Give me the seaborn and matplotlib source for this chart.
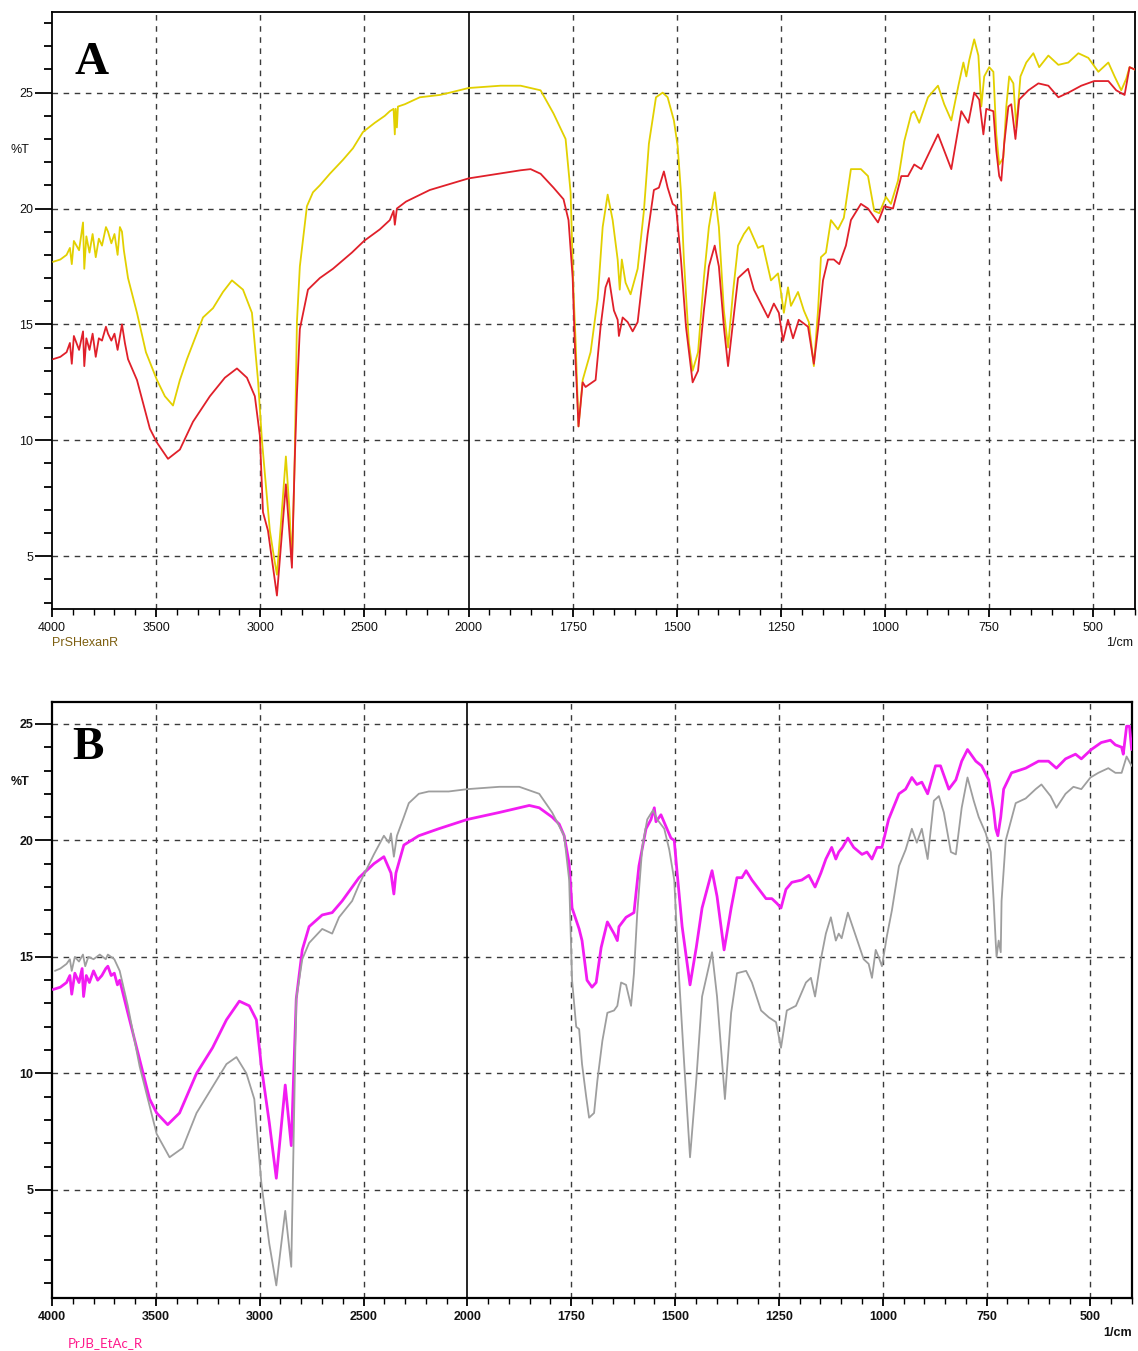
import numpy as np
import pandas as pd
import matplotlib
matplotlib.use("Agg")
import matplotlib.pyplot as plt
import seaborn as sns
from matplotlib.ticker import FixedLocator

# ---------------- data (wavenumber in 1/cm, transmittance in %T) ----------------
a_yellow_wn = [3995, 3960, 3930, 3914, 3905, 3895, 3870, 3851, 3845, 3835, 3820, 3805, 3790, 3775,
               3760, 3741, 3731, 3715, 3700, 3685, 3674, 3664, 3655, 3635, 3592, 3549, 3496, 3458,
               3419, 3386, 3352, 3275, 3227, 3179, 3136, 3083, 3040, 3011, 2992, 2954, 2935, 2920,
               2900, 2877, 2860, 2848, 2835, 2824, 2810, 2776, 2747, 2714, 2666, 2603, 2555, 2507,
               2450, 2402, 2378, 2360, 2354, 2350, 2344, 2339, 2306, 2234, 2138, 2090, 2000, 1923,
               1875, 1827, 1796, 1767, 1755, 1748, 1743, 1736, 1726, 1707, 1690, 1678, 1666, 1654,
               1642, 1637, 1632, 1623, 1611, 1594, 1579, 1567, 1550, 1534, 1522, 1507, 1498, 1490,
               1483, 1471, 1462, 1449, 1435, 1423, 1409, 1399, 1387, 1377, 1365, 1353, 1339, 1327,
               1305, 1293, 1274, 1257, 1250, 1243, 1233, 1226, 1209, 1195, 1183, 1171, 1161, 1154,
               1142, 1130, 1113, 1099, 1082, 1058, 1041, 1026, 1014, 998, 986, 969, 954, 937, 930,
               918, 897, 873, 858, 841, 824, 812, 805, 798, 786, 776, 769, 762, 750, 740, 733, 726,
               716, 709, 702, 692, 685, 675, 661, 644, 630, 608, 584, 560, 536, 512, 488, 464, 449,
               433, 421, 413, 401]
a_yellow_t = [17.7, 17.8, 18.0, 18.3, 17.6, 18.6, 18.2, 19.4, 17.4, 18.8, 18.1, 18.9, 17.9, 18.7,
              18.4, 19.2, 19.0, 18.5, 18.9, 18.0, 19.2, 19.0, 18.2, 17.0, 15.5, 13.8, 12.6, 11.9,
              11.5, 12.6, 13.5, 15.3, 15.7, 16.4, 16.9, 16.5, 15.5, 12.6, 10.0, 6.1, 5.0, 4.2,
              6.5, 9.3, 7.0, 4.7, 9.0, 15.1, 17.5, 20.1, 20.7, 21.0, 21.5, 22.1, 22.6, 23.3,
              23.7, 24.0, 24.2, 24.3, 23.2, 24.3, 23.5, 24.4, 24.5, 24.8, 24.9, 25.0, 25.2, 25.3,
              25.3, 25.1, 24.1, 23.0, 20.7, 16.4, 14.3, 10.6, 12.6, 13.8, 16.1, 19.2, 20.6, 19.5,
              17.8, 16.5, 17.8, 16.8, 16.3, 17.4, 19.9, 22.8, 24.8, 25.0, 24.8, 23.8, 22.7, 20.7,
              17.8, 14.2, 13.0, 13.8, 17.0, 19.2, 20.7, 19.2, 15.6, 14.0, 16.4, 18.4, 18.9, 19.2,
              18.3, 18.4, 16.9, 17.2, 16.4, 15.5, 16.6, 15.8, 16.4, 15.6, 15.1, 13.2, 15.6, 17.9,
              18.1, 19.5, 19.1, 19.6, 21.7, 21.7, 21.4, 19.9, 19.8, 20.5, 20.2, 21.2, 22.9, 24.1, 24.2,
              23.7, 24.8, 25.3, 24.5, 23.8, 25.3, 26.3, 25.7, 26.4, 27.3, 26.6, 24.4, 25.7, 26.1, 25.9, 23.2, 21.9,
              22.2, 24.4, 25.7, 25.4, 23.5, 25.7, 26.3, 26.7, 26.1, 26.6, 26.2, 26.3, 26.7, 26.5, 25.9, 26.3, 25.7,
              25.1, 25.6, 26.1, 26.0]

a_red_wn = [3995, 3960, 3930, 3914, 3905, 3895, 3870, 3851, 3845, 3835, 3820, 3805, 3790, 3775,
            3760, 3741, 3731, 3715, 3700, 3685, 3664, 3650, 3635, 3592, 3530, 3496, 3443, 3386,
            3323, 3242, 3170, 3112, 3064, 3026, 3002, 2987, 2963, 2920, 2877, 2848, 2835, 2824,
            2810, 2771, 2714, 2651, 2560, 2502, 2426, 2378, 2360, 2354, 2344, 2300, 2186, 2000,
            1875, 1851, 1827, 1796, 1772, 1760, 1750, 1745, 1736, 1726, 1719, 1695, 1683, 1671,
            1663, 1651, 1642, 1639, 1630, 1618, 1606, 1594, 1582, 1570, 1555, 1543, 1531, 1522,
            1510, 1502, 1490, 1478, 1462, 1449, 1435, 1423, 1409, 1399, 1387, 1377, 1365, 1353,
            1329, 1315, 1298, 1281, 1267, 1255, 1245, 1233, 1221, 1207, 1185, 1171, 1161, 1149,
            1137, 1123, 1110, 1094, 1082, 1058, 1041, 1017, 1002, 981, 961, 945, 930, 913, 873,
            841, 817, 800, 786, 774, 764, 757, 740, 733, 726, 721, 714, 704, 697, 687, 678, 656,
            632, 608, 584, 560, 529, 498, 464, 445, 425, 413, 401]
a_red_t = [13.5, 13.6, 13.8, 14.2, 13.3, 14.5, 13.9, 14.7, 13.2, 14.4, 13.9, 14.6, 13.6, 14.4,
           14.3, 14.9, 14.6, 14.3, 14.6, 13.9, 15.0, 14.2, 13.5, 12.6, 10.5, 9.9, 9.2, 9.6,
           10.8, 11.9, 12.7, 13.1, 12.7, 11.9, 10.2, 6.9, 6.1, 3.3, 8.1, 4.5, 9.0, 12.0,
           14.8, 16.5, 17.0, 17.4, 18.1, 18.6, 19.1, 19.5, 19.9, 19.3, 20.0, 20.3, 20.8, 21.3,
           21.65, 21.7, 21.5, 20.9, 20.4, 19.5, 17.0, 14.2, 10.6, 12.5, 12.3, 12.6, 14.9, 16.6,
           17.0, 15.6, 15.2, 14.5, 15.3, 15.1, 14.7, 15.1, 17.0, 18.9, 20.8, 20.9, 21.6, 20.9,
           20.2, 20.1, 17.8, 14.9, 12.5, 13.0, 15.6, 17.5, 18.4, 17.5, 14.9, 13.2, 15.1, 17.0,
           17.4, 16.5, 15.9, 15.3, 15.9, 15.5, 14.3, 15.2, 14.4, 15.2, 14.9, 13.3, 14.8, 16.9,
           17.8, 17.8, 17.6, 18.4, 19.5, 20.2, 20.0, 19.4, 20.1, 20.0, 21.4, 21.4, 21.9, 21.7, 23.2,
           21.7, 24.2, 23.7, 25.0, 24.7, 23.2, 24.3, 24.2, 22.5, 21.4, 21.2, 22.8, 24.4, 24.5, 23.0, 24.7, 25.1,
           25.4, 25.3, 24.8, 25.0, 25.3, 25.5, 25.5, 25.1, 24.9, 26.1, 26.0]

b_gray_wn = [3986, 3960, 3930, 3914, 3905, 3890, 3870, 3851, 3840, 3825, 3800, 3770, 3741, 3731,
             3700, 3674, 3635, 3578, 3530, 3496, 3434, 3371, 3304, 3208, 3160, 3112, 3064, 3026,
             2992, 2954, 2920, 2877, 2848, 2824, 2795, 2762, 2699, 2651, 2618, 2555, 2522, 2450,
             2402, 2378, 2368, 2354, 2339, 2306, 2282, 2234, 2186, 2090, 2000, 1923, 1875, 1827,
             1796, 1767, 1755, 1748, 1738, 1731, 1724, 1714, 1707, 1695, 1687, 1675, 1663, 1647,
             1639, 1630, 1618, 1606, 1599, 1591, 1579, 1567, 1553, 1543, 1526, 1514, 1502, 1490,
             1478, 1464, 1449, 1435, 1411, 1399, 1380, 1365, 1351, 1329, 1315, 1293, 1274, 1257,
             1245, 1231, 1209, 1185, 1173, 1163, 1149, 1137, 1125, 1113, 1106, 1099, 1084, 1065,
             1046, 1034, 1026, 1017, 1010, 1002, 990, 978, 961, 945, 930, 918, 906, 892, 877, 865,
             853, 836, 824, 810, 796, 781, 769, 752, 740, 733, 728, 726, 721, 716, 714, 704, 680,
             656, 632, 618, 596, 582, 560, 541, 522, 500, 481, 457, 440, 425, 413, 401]
b_gray_t = [14.4, 14.5, 14.7, 14.9, 14.4, 15.0, 14.8, 15.1, 14.6, 15.0, 14.9, 15.1, 14.9, 15.1,
            14.9, 14.4, 12.9, 10.3, 8.6, 7.4, 6.4, 6.8, 8.3, 9.7, 10.4, 10.7, 10.0, 8.9,
            5.3, 2.7, 0.9, 4.1, 1.7, 13.2, 14.9, 15.6, 16.2, 16.0, 16.7, 17.4, 18.1, 19.4,
            20.2, 19.9, 20.3, 19.3, 20.2, 21.0, 21.6, 22.0, 22.1, 22.1, 22.2, 22.3, 22.3, 22.0,
            21.2, 20.2, 18.3, 14.0, 12.0, 11.9, 10.4, 9.0, 8.1, 8.3, 9.7, 11.4, 12.6, 12.7,
            12.9, 13.9, 13.8, 12.9, 14.3, 16.9, 19.7, 20.9, 21.3, 20.9, 20.5, 19.6, 18.3, 14.0,
            10.4, 6.4, 9.7, 13.3, 15.2, 13.3, 8.9, 12.6, 14.3, 14.4, 13.9, 12.7, 12.4, 12.2,
            11.1, 12.7, 12.9, 13.9, 14.1, 13.3, 14.9, 16.0, 16.7, 15.7, 16.0, 15.8, 16.9, 15.9,
            14.9, 14.7, 14.1, 15.3, 15.0, 14.6, 15.9, 17.0, 18.9, 19.6, 20.5, 19.9, 20.5, 19.2, 21.7, 21.9,
            21.2, 19.5, 19.4, 21.4, 22.7, 21.7, 21.0, 20.3, 19.5, 17.4, 15.6, 15.0, 15.7, 15.2, 17.4, 20.0, 21.6,
            21.8, 22.2, 22.4, 21.9, 21.4, 22.0, 22.3, 22.2, 22.7, 22.9, 23.1, 22.9, 22.9, 23.6, 23.2]

b_mag_wn = [3995, 3960, 3930, 3914, 3905, 3890, 3870, 3855, 3848, 3835, 3820, 3800, 3780, 3760,
            3741, 3731, 3715, 3700, 3685, 3674, 3660, 3635, 3578, 3530, 3496, 3443, 3386, 3304,
            3227, 3160, 3098, 3050, 3016, 2992, 2954, 2920, 2877, 2848, 2824, 2795, 2762, 2699,
            2651, 2603, 2522, 2450, 2402, 2368, 2354, 2344, 2306, 2234, 2138, 2000, 1923, 1851,
            1827, 1796, 1779, 1767, 1755, 1748, 1731, 1724, 1712, 1700, 1690, 1678, 1663, 1647,
            1639, 1635, 1618, 1599, 1587, 1570, 1558, 1550, 1546, 1534, 1522, 1510, 1502, 1495,
            1483, 1464, 1449, 1435, 1411, 1399, 1382, 1365, 1351, 1339, 1329, 1315, 1298, 1281,
            1267, 1255, 1245, 1233, 1219, 1195, 1178, 1163, 1149, 1137, 1123, 1113, 1106, 1097,
            1084, 1070, 1050, 1038, 1026, 1014, 1002, 986, 961, 945, 930, 918, 906, 892, 873,
            861, 841, 824, 810, 796, 776, 762, 745, 733, 728, 723, 716, 709, 690, 656, 625, 601,
            582, 560, 536, 522, 498, 474, 452, 440, 425, 421, 413, 406, 401]
b_mag_t = [13.6, 13.7, 13.9, 14.2, 13.4, 14.3, 13.9, 14.5, 13.3, 14.2, 13.9, 14.4, 14.0, 14.2,
           14.5, 14.6, 14.2, 14.3, 13.8, 14.0, 13.5, 12.6, 10.6, 8.9, 8.3, 7.8, 8.3, 10.0,
           11.1, 12.3, 13.1, 12.9, 12.3, 10.3, 7.9, 5.5, 9.5, 6.9, 13.2, 15.3, 16.3, 16.8,
           16.9, 17.4, 18.4, 19.0, 19.3, 18.6, 17.7, 18.6, 19.8, 20.2, 20.5, 20.9, 21.2, 21.5,
           21.4, 21.0, 20.7, 20.2, 19.0, 17.1, 16.2, 15.7, 14.0, 13.7, 13.9, 15.4, 16.5, 16.0,
           15.7, 16.3, 16.7, 16.9, 18.9, 20.5, 20.9, 21.4, 20.8, 21.1, 20.6, 20.1, 20.0, 18.6,
           16.3, 13.8, 15.4, 17.1, 18.7, 17.6, 15.3, 17.1, 18.4, 18.4, 18.7, 18.3, 17.9, 17.5,
           17.5, 17.3, 17.1, 17.9, 18.2, 18.3, 18.5, 18.0, 18.6, 19.2, 19.7, 19.2, 19.5, 19.7,
           20.1, 19.7, 19.4, 19.5, 19.2, 19.7, 19.7, 20.9, 22.0, 22.2, 22.7, 22.4, 22.5, 22.0, 23.2,
           23.2, 22.2, 22.6, 23.4, 23.9, 23.4, 23.2, 22.6, 21.3, 20.5, 20.2, 21.0, 22.2, 22.9, 23.1, 23.4, 23.4,
           23.1, 23.5, 23.7, 23.5, 23.9, 24.2, 24.3, 24.1, 24.0, 23.7, 24.9, 24.9, 23.9]

major_ticks = [4000, 3500, 3000, 2500, 2000, 1750, 1500, 1250, 1000, 750, 500]
y_major = [5, 10, 15, 20, 25]

# ---------------- styling ----------------
sns.set_theme(style="white")
plt.rcParams['font.family'] = ['Liberation Sans', 'DejaVu Sans']

W, H = 1138, 1351
fig = plt.figure(figsize=(W / 100, H / 100), dpi=100)


def fwd(w):
    w = np.asarray(w, dtype=float)
    return np.where(w <= 2000, w, 2000 + (w - 2000) * 0.5)


def inv(u):
    u = np.asarray(u, dtype=float)
    return np.where(u <= 2000, u, 2000 + (u - 2000) * 2.0)


def px_axes(left, top, right, bottom):
    return fig.add_axes([left / W, 1 - bottom / H, (right - left) / W, (bottom - top) / H])


def style_axes(ax, ylim, bold, spine_lw):
    ax.set_xscale('function', functions=(fwd, inv))
    ax.set_xlim(4000, 400)
    ax.set_ylim(*ylim)
    ax.xaxis.set_major_locator(FixedLocator(major_ticks))
    minors = list(range(4000, 2000, -100)) + list(range(2000, 399, -50))
    ax.xaxis.set_minor_locator(FixedLocator(minors))
    ax.yaxis.set_major_locator(FixedLocator(y_major))
    ax.yaxis.set_minor_locator(FixedLocator(list(range(int(np.ceil(ylim[0])), int(ylim[1]) + 1))))
    ax.set_xticklabels([str(t) for t in major_ticks])
    ax.set_yticklabels([str(t) for t in y_major])
    weight = 'bold' if bold else 'normal'
    fs = 9
    for lab in ax.get_xticklabels() + ax.get_yticklabels():
        lab.set_fontweight(weight)
        lab.set_fontsize(fs)
        lab.set_color('#111111')
    ax.tick_params(axis='y', which='major', direction='out', length=12, width=1.3, pad=1.5, color='black', left=True)
    ax.tick_params(axis='y', which='minor', direction='out', length=6, width=1.3, color='black', left=True)
    ax.tick_params(axis='x', which='major', direction='out', length=6, width=1.3, pad=3, color='black', bottom=True)
    ax.tick_params(axis='x', which='minor', direction='out', length=4, width=1.0, color='black', bottom=True)
    for t in major_ticks[1:]:
        if t == 2000:
            continue
        ax.axvline(t, color='#3a3a3a', lw=1.0, ls=(0, (4, 4)), zorder=1)
    for v in y_major:
        ax.axhline(v, color='#3a3a3a', lw=1.0, ls=(0, (4, 4)), zorder=1)
    ax.axvline(2000, color='black', lw=1.2, zorder=1)
    for s in ax.spines.values():
        s.set_visible(True)
        s.set_color('black')
        s.set_linewidth(spine_lw)
    ax.set_xlabel('')
    ax.set_ylabel('')
    ax.grid(False)


# ---------------- panel A ----------------
axA = px_axes(52, 12, 1135, 609)
dfA_y = pd.DataFrame({'wn': a_yellow_wn, 'T': a_yellow_t})
dfA_r = pd.DataFrame({'wn': a_red_wn, 'T': a_red_t})
sns.lineplot(data=dfA_y, x='wn', y='T', ax=axA, color='#e2d000', lw=1.3, sort=False, estimator=None, zorder=3)
sns.lineplot(data=dfA_r, x='wn', y='T', ax=axA, color='#e0202a', lw=1.3, sort=False, estimator=None, zorder=4)
style_axes(axA, (2.72, 28.48), bold=False, spine_lw=1.3)

# ---------------- panel B ----------------
axB = px_axes(52, 702, 1132, 1298)
dfB_m = pd.DataFrame({'wn': b_mag_wn, 'T': b_mag_t})
dfB_g = pd.DataFrame({'wn': b_gray_wn, 'T': b_gray_t})
sns.lineplot(data=dfB_m, x='wn', y='T', ax=axB, color='#f21cf2', lw=2.0, sort=False, estimator=None, zorder=3)
sns.lineplot(data=dfB_g, x='wn', y='T', ax=axB, color='#9e9e9e', lw=1.3, sort=False, estimator=None, zorder=4)
style_axes(axB, (0.36, 25.94), bold=True, spine_lw=1.6)

# ---------------- texts ----------------
def ftext(x, y, s, **kw):
    fig.text(x / W, 1 - y / H, s, **kw)

ftext(20, 150, '%T', fontsize=9, ha='center', va='center', color='#111111')
ftext(1120, 643, '1/cm', fontsize=9, ha='center', va='center', color='#111111')
ftext(52, 643, 'PrSHexanR', fontsize=9, ha='left', va='center', color='#7d5f10')
ftext(92, 63, 'A', fontsize=34, ha='center', va='center', fontweight='bold',
      family=['Liberation Serif', 'DejaVu Serif'], color='black')

ftext(20, 782, '%T', fontsize=9, ha='center', va='center', fontweight='bold', color='#111111')
ftext(1118, 1333, '1/cm', fontsize=9, ha='center', va='center', fontweight='bold', color='#111111')
ftext(68, 1343, 'PrJB_EtAc_R', fontsize=9.5, ha='left', va='center', color='#ff1a8c',
      family=['Lato', 'DejaVu Sans'])
ftext(88, 748, 'B', fontsize=34, ha='center', va='center', fontweight='bold',
      family=['Liberation Serif', 'DejaVu Serif'], color='black')

fig.savefig('out.png', dpi=100, facecolor='white')
